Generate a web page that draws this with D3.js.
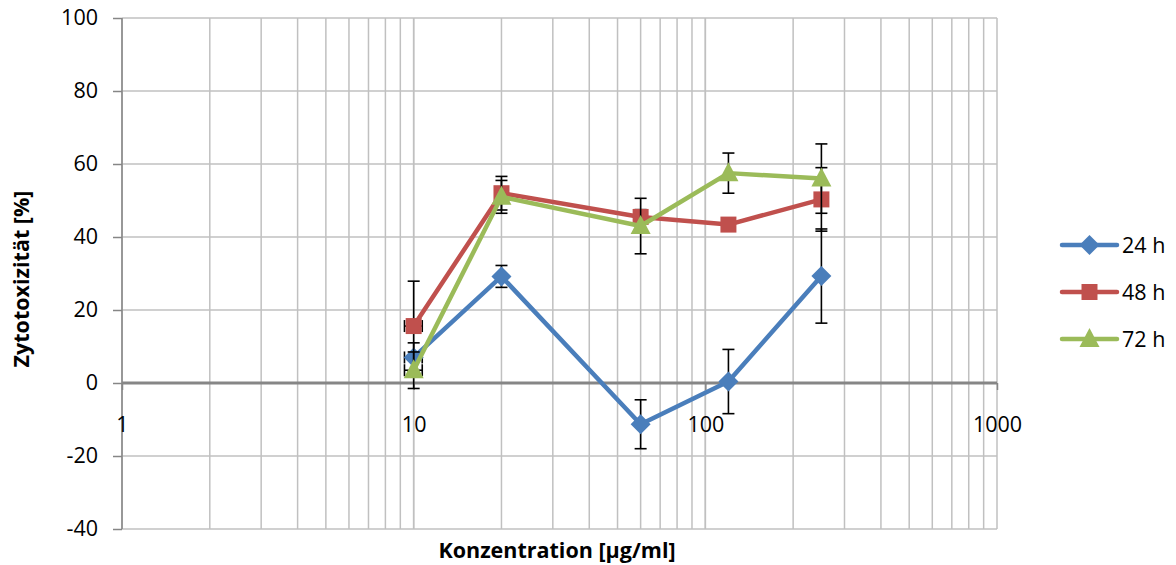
<!DOCTYPE html>
<html>
<head>
<meta charset="utf-8">
<script src="https://d3js.org/d3.v7.min.js"></script>
<style>
    body { margin: 0; background: #fff; }
    svg { font-family: "Open Sans", "Liberation Sans", sans-serif; }
</style>
</head>
<body>
<script>
    // concentrations and values
    var conc = [10, 20, 60, 120, 250];
    var concErr = [0.7, 0, 0, 0, 0];

    var series = ["24 h", "48 h", "72 h"];
    var val24 = [7, 29.2, -11.3, 0.4, 29.3];
    var err24 = [4, 3, 6.7, 8.8, 12.9];
    var val48 = [15.6, 52, 45.5, 43.4, 50.3];
    var err48 = [12.3, 4.6, 2, 1.5, 8.7];
    var val72 = [3.5, 51, 43, 57.5, 56];
    var err72 = [5, 4.5, 7.6, 5.5, 9.5];

    var yTicks = [-40, -20, 0, 20, 40, 60, 80, 100];
    var xTicks = [1, 10, 100, 1000];

    var colors = ["#4a7ebb", "#c0504d", "#9bbb59"];

    var W = 1176, H = 565;
    var pLeft = 122, pRight = 997, pTop = 18, pBottom = 529;

    var svg = d3.select("body").append("svg")
        .attr("width", W)
        .attr("height", H);

    var x = d3.scaleLog().domain([1, 1000]).range([pLeft, pRight]);
    var y = d3.scaleLinear().domain([-40, 100]).range([pBottom, pTop]);

    // markers: diamond, square, triangle
    function marker(sel, i) {
        if (i == 0) {
            sel.append("path").attr("d", "M0,-10L10,0L0,10L-10,0Z");
        } else if (i == 1) {
            sel.append("path").attr("d", "M-8,-8H8V8H-8Z");
        } else {
            sel.append("path").attr("d", "M0,-11L10,8H-10Z");
        }
        sel.selectAll("path").attr("fill", colors[i]);
    }

    // gridlines
    var minor = [];
    [1, 10, 100].forEach(function(d) {
        for (var k = 1; k <= 10; k++) minor.push(d * k);
    });
    svg.append("g").selectAll("line")
        .data(minor)
        .enter().append("line")
        .attr("x1", function(d) { return x(d); })
        .attr("x2", function(d) { return x(d); })
        .attr("y1", pTop)
        .attr("y2", pBottom)
        .attr("stroke", "#c0c0c0")
        .attr("stroke-width", 1.5);

    svg.append("g").selectAll("line")
        .data(yTicks)
        .enter().append("line")
        .attr("x1", pLeft)
        .attr("x2", pRight)
        .attr("y1", function(d) { return y(d); })
        .attr("y2", function(d) { return y(d); })
        .attr("stroke", "#c0c0c0")
        .attr("stroke-width", 1.5);

    // y axis
    var yAxis = svg.append("g")
        .attr("transform", "translate(" + pLeft + ",0)")
        .call(d3.axisLeft(y).tickValues(yTicks).tickFormat(function(d) { return String(d); })
            .tickSize(9).tickPadding(15));
    yAxis.selectAll("path, line").attr("stroke", "#868686").attr("stroke-width", 1.5);
    yAxis.select(".domain").attr("d", "M0," + pTop + "V" + pBottom);
    yAxis.selectAll("text")
        .attr("font-size", 21.5)
        .attr("font-family", "Open Sans")
        .attr("fill", "#000");

    // x axis crossing at 0
    var xAxis = svg.append("g")
        .attr("transform", "translate(0," + y(0) + ")")
        .call(d3.axisBottom(x).tickValues(xTicks).tickFormat(function(d) { return String(d); })
            .tickSize(7).tickPadding(27));
    xAxis.selectAll("line").attr("stroke", "#868686").attr("stroke-width", 1.5);
    xAxis.select(".domain").attr("stroke", "#868686").attr("stroke-width", 3)
        .attr("d", "M" + pLeft + ",0H" + pRight);
    xAxis.selectAll("text")
        .attr("font-size", 21.5)
        .attr("font-family", "Open Sans")
        .attr("fill", "#000");

    // axis titles
    svg.append("text")
        .attr("x", 557)
        .attr("y", 558)
        .attr("text-anchor", "middle")
        .attr("font-size", 21.5)
        .attr("font-weight", "bold")
        .text("Konzentration [µg/ml]");

    svg.append("text")
        .attr("transform", "translate(29,279) rotate(-90)")
        .attr("text-anchor", "middle")
        .attr("font-size", 21.5)
        .attr("font-weight", "bold")
        .text("Zytotoxizität [%]");

    var data = [
        { name: series[0], v: val24, e: err24 },
        { name: series[1], v: val48, e: err48 },
        { name: series[2], v: val72, e: err72 }
    ];

    var line = d3.line()
        .x(function(d) { return x(d[0]); })
        .y(function(d) { return y(d[1]); });

    data.forEach(function(s, i) {
        var pts = conc.map(function(c, j) { return [c, s.v[j], s.e[j], concErr[j]]; });
        var g = svg.append("g");

        // error bars
        var eb = g.selectAll(".eb").data(pts).enter().append("g");
        eb.append("line")
            .attr("x1", function(d) { return x(d[0]); })
            .attr("x2", function(d) { return x(d[0]); })
            .attr("y1", function(d) { return y(d[1] - d[2]); })
            .attr("y2", function(d) { return y(d[1] + d[2]); });
        eb.append("line")
            .attr("x1", function(d) { return x(d[0]) - 6; })
            .attr("x2", function(d) { return x(d[0]) + 6; })
            .attr("y1", function(d) { return y(d[1] + d[2]); })
            .attr("y2", function(d) { return y(d[1] + d[2]); });
        eb.append("line")
            .attr("x1", function(d) { return x(d[0]) - 6; })
            .attr("x2", function(d) { return x(d[0]) + 6; })
            .attr("y1", function(d) { return y(d[1] - d[2]); })
            .attr("y2", function(d) { return y(d[1] - d[2]); });
        // horizontal error bars
        var hb = eb.filter(function(d) { return d[3] > 0; });
        hb.append("line")
            .attr("x1", function(d) { return x(d[0] - d[3]); })
            .attr("x2", function(d) { return x(d[0] + d[3]); })
            .attr("y1", function(d) { return y(d[1]); })
            .attr("y2", function(d) { return y(d[1]); });
        hb.append("line")
            .attr("x1", function(d) { return x(d[0] - d[3]); })
            .attr("x2", function(d) { return x(d[0] - d[3]); })
            .attr("y1", function(d) { return y(d[1]) - 6; })
            .attr("y2", function(d) { return y(d[1]) + 6; });
        hb.append("line")
            .attr("x1", function(d) { return x(d[0] + d[3]); })
            .attr("x2", function(d) { return x(d[0] + d[3]); })
            .attr("y1", function(d) { return y(d[1]) - 6; })
            .attr("y2", function(d) { return y(d[1]) + 6; });
        eb.selectAll("line").attr("stroke", "#000").attr("stroke-width", 1.6);

        g.append("path")
            .datum(pts)
            .attr("d", line)
            .attr("fill", "none")
            .attr("stroke", colors[i])
            .attr("stroke-width", 4.5)
            .attr("stroke-linejoin", "round");

        g.selectAll(".mk").data(pts).enter().append("g")
            .attr("transform", function(d) { return "translate(" + x(d[0]) + "," + y(d[1]) + ")"; })
            .each(function() { marker(d3.select(this), i); });
    });

    // legend
    var legY = [245, 292, 339];
    var leg = svg.append("g").selectAll("g")
        .data(data)
        .enter().append("g")
        .attr("transform", function(d, i) { return "translate(1062," + legY[i] + ")"; });
    leg.append("line")
        .attr("x1", 0).attr("x2", 55)
        .attr("stroke", function(d, i) { return colors[i]; })
        .attr("stroke-width", 4.5)
        .attr("stroke-linecap", "round");
    leg.append("g")
        .attr("transform", "translate(27.5,0)")
        .each(function(d, i) { marker(d3.select(this), i); });
    leg.append("text")
        .attr("x", 60)
        .attr("y", 8)
        .attr("font-size", 21.5)
        .text(function(d) { return d.name; });
</script>
</body>
</html>
